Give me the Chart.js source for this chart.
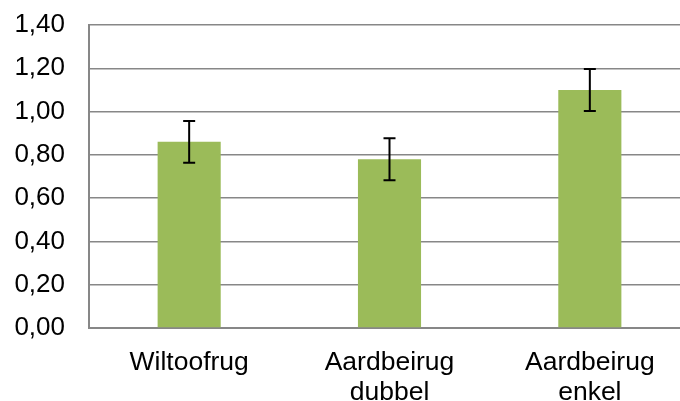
<!DOCTYPE html>
<html>
<head>
<meta charset="utf-8">
<script src="https://cdn.jsdelivr.net/npm/chart.js@4"></script>
<style>
  html, body { margin: 0; padding: 0; background: #fff; overflow: hidden; }
  #wrap { width: 692px; height: 401px; }
</style>
</head>
<body>
<div id="wrap"><canvas id="myChart"></canvas></div>
<script>
const categories = [["Wiltoofrug"], ["Aardbeirug", "dubbel"], ["Aardbeirug", "enkel"]];
const values = [0.86, 0.78, 1.10];
const errors = [0.097, 0.097, 0.097];
const yTicks = [0, 0.2, 0.4, 0.6, 0.8, 1.0, 1.2, 1.4];

// error bars drawn after the bars
const errorBars = {
  id: "errorBars",
  afterDatasetsDraw(chart) {
    const ctx = chart.ctx;
    const yScale = chart.scales.y;
    const meta = chart.getDatasetMeta(0);
    ctx.save();
    ctx.strokeStyle = "#000";
    ctx.lineWidth = 2;
    meta.data.forEach((bar, i) => {
      const x = bar.x;
      const top = yScale.getPixelForValue(values[i] + errors[i]);
      const bottom = yScale.getPixelForValue(values[i] - errors[i]);
      ctx.beginPath();
      ctx.moveTo(x, top);
      ctx.lineTo(x, bottom);
      ctx.moveTo(x - 6, top);
      ctx.lineTo(x + 6, top);
      ctx.moveTo(x - 6, bottom);
      ctx.lineTo(x + 6, bottom);
      ctx.stroke();
    });
    ctx.restore();
  },
};

const ctx = document.getElementById("myChart");
new Chart(ctx, {
  type: "bar",
  data: {
    labels: categories,
    datasets: [
      {
        data: values,
        backgroundColor: "#9BBB59",
        categoryPercentage: 1,
        barPercentage: 0.315,
      },
    ],
  },
  options: {
    responsive: true,
    maintainAspectRatio: false,
    animation: false,
    layout: { padding: { top: 25, left: 0, right: 2, bottom: 0 } },
    plugins: { legend: { display: false }, tooltip: { enabled: false } },
    scales: {
      x: {
        afterFit: (axis) => {
          axis.height = 73;
          axis.paddingLeft = 0;
          axis.paddingRight = 0;
        },
        grid: { display: false, drawTicks: false },
        border: { color: "#878787", width: 2 },
        ticks: {
          color: "#000",
          padding: 19,
          font: { family: "Liberation Sans", size: 26.5, lineHeight: 1.15 },
          maxRotation: 0,
        },
      },
      y: {
        min: 0,
        max: 1.4,
        afterBuildTicks: (axis) => {
          axis.ticks = yTicks.map((v) => ({ value: v }));
        },
        afterFit: (axis) => {
          axis.width = 89;
          axis.paddingTop = 0;
          axis.paddingBottom = 0;
        },
        grid: { color: "#878787", lineWidth: 1.5, drawTicks: false },
        border: { color: "#878787", width: 2 },
        ticks: {
          color: "#000",
          padding: 24,
          font: { family: "Liberation Sans", size: 26 },
          callback: (v) => v.toFixed(2).replace(".", ","),
        },
      },
    },
  },
  plugins: [errorBars],
});
</script>
</body>
</html>
